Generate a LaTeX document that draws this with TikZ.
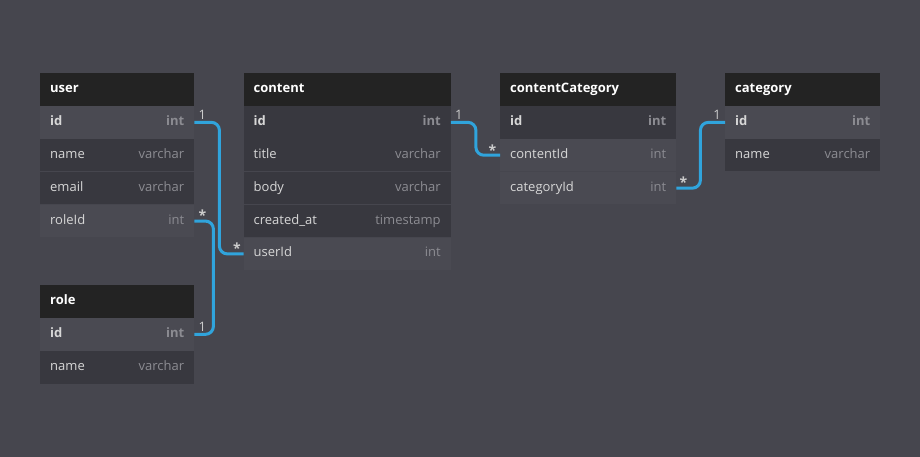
\documentclass[tikz,border=0pt]{standalone}
\usepackage{fontspec}
\setmainfont{Open Sans}
\usetikzlibrary{positioning}
\definecolor{canvas}{RGB}{70,70,78}
\definecolor{headbg}{RGB}{35,35,35}
\definecolor{rowdark}{RGB}{56,56,63}
\definecolor{rowlit}{RGB}{74,74,82}
\definecolor{fieldtxt}{RGB}{215,215,215}
\definecolor{typetxt}{RGB}{140,140,146}
\definecolor{cardtxt}{RGB}{205,205,205}
\definecolor{reflink}{RGB}{48,164,220}

\begin{document}
\begin{tikzpicture}[x=1pt,y=-1pt,
tblhead/.style={anchor=north west, fill=headbg, text=white, font=\fontsize{13}{15}\selectfont\bfseries, text width=#1, align=left, inner xsep=10pt, inner ysep=0pt, minimum height=32.5pt, text height=9pt, text depth=3pt},
tblrow/.style={tblhead=#1, fill=rowdark, text=fieldtxt, font=\fontsize{13}{15}\selectfont},
keyrow/.style={tblrow=#1, font=\fontsize{13}{15}\selectfont\bfseries},
lit/.style={fill=rowlit},
link/.style={draw=reflink, line width=3pt, rounded corners=8pt},
card/.style={text=cardtxt, inner sep=1pt, font=\fontsize{13}{15}\selectfont},
many/.style={card, font=\fontsize{14}{15}\selectfont\bfseries}
]
    \fill[canvas] (0,0) rectangle (920,457);

    % user
    \node[tblhead=134pt] (user) at (40,73) {user};
    \node[keyrow=134pt, lit, below=0pt of user] (user-id) {id\hfill\textcolor{typetxt}{int}};
    \node[tblrow=134pt, below=0pt of user-id] (user-name) {name\hfill\textcolor{typetxt}{varchar}};
    \node[tblrow=134pt, below=0pt of user-name] (user-email) {email\hfill\textcolor{typetxt}{varchar}};
    \node[tblrow=134pt, lit, below=0pt of user-email] (user-roleId) {roleId\hfill\textcolor{typetxt}{int}};

    % role
    \node[tblhead=134pt] (role) at (40,285) {role};
    \node[keyrow=134pt, lit, below=0pt of role] (role-id) {id\hfill\textcolor{typetxt}{int}};
    \node[tblrow=134pt, below=0pt of role-id] (role-name) {name\hfill\textcolor{typetxt}{varchar}};

    % content
    \node[tblhead=187pt] (content) at (243.5,73) {content};
    \node[keyrow=187pt, below=0pt of content] (content-id) {id\hfill\textcolor{typetxt}{int}};
    \node[tblrow=187pt, below=0pt of content-id] (content-title) {title\hfill\textcolor{typetxt}{varchar}};
    \node[tblrow=187pt, below=0pt of content-title] (content-body) {body\hfill\textcolor{typetxt}{varchar}};
    \node[tblrow=187pt, below=0pt of content-body] (content-created) {created\_at\hfill\textcolor{typetxt}{timestamp}};
    \node[tblrow=187pt, lit, below=0pt of content-created] (content-userId) {userId\hfill\textcolor{typetxt}{int}};

    % contentCategory
    \node[tblhead=156pt] (cc) at (500,73) {contentCategory};
    \node[keyrow=156pt, below=0pt of cc] (cc-id) {id\hfill\textcolor{typetxt}{int}};
    \node[tblrow=156pt, lit, below=0pt of cc-id] (cc-contentId) {contentId\hfill\textcolor{typetxt}{int}};
    \node[tblrow=156pt, lit, below=0pt of cc-contentId] (cc-categoryId) {categoryId\hfill\textcolor{typetxt}{int}};

    % category
    \node[tblhead=135pt] (category) at (725,73) {category};
    \node[keyrow=135pt, lit, below=0pt of category] (category-id) {id\hfill\textcolor{typetxt}{int}};
    \node[tblrow=135pt, below=0pt of category-id] (category-name) {name\hfill\textcolor{typetxt}{varchar}};

    % refs
    \draw[link] (user-id.east) -- ++(25,0) |- (content-userId.west);
    \draw[link] (user-roleId.east) -- ++(19,0) |- (role-id.east);
    \draw[link] (content-id.east) -- ++(25,0) |- (cc-contentId.west);
    \draw[link] (cc-categoryId.east) -- ++(24,0) |- (category-id.west);

    \node[card, anchor=south west] (m1) at ([xshift=3pt,yshift=1.5pt]user-id.east) {1};
    \node[many, anchor=south east] (n1) at ([xshift=-1.5pt,yshift=-1pt]content-userId.west) {*};
    \node[many, anchor=south west] (n2) at ([xshift=3pt,yshift=-1pt]user-roleId.east) {*};
    \node[card, anchor=south west] (m2) at ([xshift=3pt,yshift=1.5pt]role-id.east) {1};
    \node[card, anchor=south west] (m3) at ([xshift=3pt,yshift=1.5pt]content-id.east) {1};
    \node[many, anchor=south east] (n3) at ([xshift=-2.5pt,yshift=-1pt]cc-contentId.west) {*};
    \node[many, anchor=south west] (n4) at ([xshift=2pt,yshift=-1pt]cc-categoryId.east) {*};
    \node[card, anchor=south east] (m4) at ([xshift=-3pt,yshift=1.5pt]category-id.west) {1};
\end{tikzpicture}
\end{document}
